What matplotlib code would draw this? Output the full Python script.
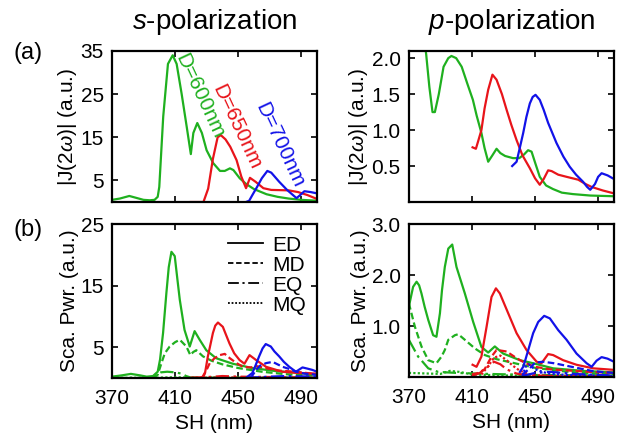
import matplotlib
matplotlib.use("Agg")
import matplotlib.pyplot as plt
from matplotlib.lines import Line2D

plt.rcParams['font.family'] = ['Liberation Sans', 'DejaVu Sans']
plt.rcParams['mathtext.fontset'] = 'custom'
plt.rcParams['mathtext.rm'] = 'Liberation Sans'
plt.rcParams['mathtext.it'] = 'Liberation Sans:italic'

GREEN = '#1fb01f'
RED = '#e8141a'
BLUE = '#1212e8'

# ---- (a) s-polarization, |J(2w)| ----
sj600_x = [370, 375, 381, 386, 390, 394, 397, 399, 400, 402.5, 405.5, 408.5, 411, 414.2, 417.4, 420,
           421.6, 424.1, 427, 430, 434.2, 438.5, 441.5, 444.8, 447, 451, 455, 460, 468, 475, 482, 490, 500]
sj600_y = [0.5, 0.8, 1.4, 0.9, 0.5, 0.4, 0.5, 1.2, 3.5, 19.8, 32, 34, 32, 25, 17.4, 11.1,
           16, 18.3, 16, 12, 9, 7.2, 7.2, 7.8, 7.4, 5.5, 4.2, 3.0, 1.8, 1.2, 0.8, 0.5, 0.3]
sj650_x = [420, 428, 431, 434, 437, 439, 442, 445, 449, 452, 455, 457.5, 461, 466, 471, 482, 488, 494, 500]
sj650_y = [0, 0, 3.1, 10, 15, 15.5, 14.5, 12.8, 9.7, 5.9, 3.2, 5.6, 4.7, 3.2, 2.8, 2.7, 2.3, 1.6, 0.7]
sj700_x = [455, 457, 459, 462, 465, 468.5, 471, 476, 481, 487, 489, 492, 496, 500]
sj700_y = [0, 0.3, 1.6, 3.5, 5.5, 7.2, 6.8, 4.7, 2.8, 0.9, 1.5, 2.5, 2.3, 2.0]

# ---- (a) p-polarization, |J(2w)| ----
pj600_x = [376, 378, 381, 383, 385, 386.5, 389, 392, 395, 397, 400, 403.5, 407, 410.6, 413, 416, 418, 420.3,
           423, 425.6, 428, 431, 436, 440, 443, 445.6, 447.8, 450, 453, 457, 461.4, 467, 474, 485, 500]
pj600_y = [3.2, 2.6, 2.05, 1.6, 1.25, 1.25, 1.5, 1.88, 2.0, 2.03, 2.0, 1.88, 1.65, 1.42, 1.2, 0.96, 0.75, 0.56,
           0.65, 0.74, 0.68, 0.64, 0.61, 0.61, 0.66, 0.72, 0.70, 0.55, 0.35, 0.23, 0.18, 0.13, 0.11, 0.09, 0.08]
pj650_x = [410.4, 412.5, 414, 416, 418, 420.3, 423, 425.6, 429, 432, 435, 438.3, 442, 446.7, 450, 453,
           455.5, 458.3, 460.5, 464.7, 470, 477.4, 482, 485.8, 493, 500]
pj650_y = [0.76, 0.74, 0.85, 1.0, 1.3, 1.56, 1.77, 1.70, 1.5, 1.28, 1.07, 0.86, 0.65, 0.47, 0.33, 0.24,
           0.32, 0.44, 0.43, 0.38, 0.35, 0.31, 0.25, 0.21, 0.16, 0.12]
pj700_x = [435.5, 438.3, 440, 442.5, 444.5, 446.7, 448.5, 450.3, 453, 455.5, 458.3, 463.6, 468, 472, 476,
           480.5, 483, 485, 488, 490, 492.2, 496, 500]
pj700_y = [0.5, 0.56, 0.72, 0.96, 1.18, 1.37, 1.46, 1.49, 1.42, 1.28, 1.1, 0.82, 0.63, 0.49, 0.38,
           0.28, 0.21, 0.17, 0.25, 0.35, 0.4, 0.37, 0.32]

# ---- (b) s-polarization, scattered power ----
ss600_ed_x = [370, 376, 382, 388, 392, 396, 399, 400.5, 402.4, 404.5, 406, 407.7, 409.8, 411.5, 413, 416,
              419.3, 422.4, 425.6, 429.8, 436, 446.6, 459, 474, 489, 500]
ss600_ed_y = [0.2, 0.4, 0.65, 0.4, 0.2, 0.3, 1.0, 3.0, 7.3, 13.8, 18, 20.5, 19.8, 16, 12.7, 7.8,
              5.1, 7.6, 6.2, 4.5, 3.2, 2.3, 1.6, 1.1, 0.8, 0.5]
ss600_md_x = [396, 399, 401.5, 403.5, 406.6, 410, 413, 417.2, 419.7, 421.5, 423.5, 427.7, 433, 440, 450,
              465, 480, 500]
ss600_md_y = [0, 0.5, 2.5, 4.0, 5.1, 5.8, 6.2, 5.1, 3.7, 4.2, 4.5, 3.5, 2.8, 2.2, 1.6, 1.0, 0.6, 0.3]
ss600_eq_x = [370, 395, 398, 401, 405, 410, 414, 417, 420, 500]
ss600_eq_y = [0, 0, 0.4, 0.9, 1.0, 0.9, 0.7, 0.3, 0.05, 0]
ss600_mq_x = [370, 400, 410, 420, 500]
ss600_mq_y = [0, 0.05, 0.1, 0.05, 0]

ss650_ed_x = [420, 427.7, 429, 430.8, 432.5, 434, 435.5, 437.2, 440.3, 442, 444.5, 447.5, 450.9, 454,
              457.2, 461.4, 467.7, 478, 488, 500]
ss650_ed_y = [0, 0, 0.8, 3.5, 5.5, 7.3, 8.5, 9.0, 8.3, 7.2, 5.6, 4.0, 2.9, 2.3, 3.7, 2.9, 1.8, 1.0, 0.8, 0.7]
ss650_md_x = [427, 430, 432, 435, 438.3, 441.5, 444.7, 449, 453, 458, 462, 467, 475, 486.7, 500]
ss650_md_y = [0, 1.3, 2.4, 3.2, 3.7, 3.9, 3.2, 2.4, 1.8, 1.7, 1.9, 1.6, 1.2, 1.0, 0.6]
ss650_eq_x = [420, 435, 440, 450, 500]
ss650_eq_y = [0, 0.2, 0.3, 0.2, 0.05]
ss650_mq_x = [420, 440, 500]
ss650_mq_y = [0, 0.05, 0.02]

ss700_ed_x = [455, 459, 461, 463.3, 465.5, 467.5, 470.7, 473, 476, 479, 482.4, 486.6, 490.8, 494, 497, 500]
ss700_ed_y = [0, 0.8, 2.0, 3.5, 4.8, 5.5, 5.1, 4.3, 3.5, 2.6, 1.8, 1.0, 1.7, 1.5, 1.3, 1.0]
ss700_md_x = [458, 461.4, 464, 467.7, 471.9, 475, 478.2, 483, 486.7, 492, 500]
ss700_md_y = [0, 1.3, 2.0, 2.4, 2.6, 2.2, 1.8, 1.4, 1.0, 0.7, 0.5]
ss700_eq_x = [455, 470, 480, 500]
ss700_eq_y = [0, 0.2, 0.3, 0.2]
ss700_mq_x = [455, 500]
ss700_mq_y = [0, 0.05]

# ---- (b) p-polarization, scattered power ----
ps600_ed_x = [370, 372.7, 374.9, 376.5, 378, 380, 382.3, 385.4, 387.5, 389.7, 391, 392.8, 395, 397.5, 400.2,
              405.5, 410.8, 416, 420.3, 424.5, 429.8, 440.4, 448.8, 461.5, 480.5, 500]
ps600_ed_y = [1.38, 1.77, 1.87, 1.8, 1.64, 1.38, 1.12, 0.82, 0.79, 1.25, 1.7, 2.16, 2.52, 2.6, 2.16,
              1.64, 1.08, 0.59, 0.48, 0.6, 0.46, 0.33, 0.27, 0.17, 0.12, 0.09]
ps600_md_x = [370, 373.8, 378, 382.3, 387.5, 390.7, 392.8, 395, 399.2, 401.3, 405.5, 411.9, 418.2, 425.6,
              440, 450, 465, 480, 500]
ps600_md_y = [1.45, 0.99, 0.6, 0.33, 0.27, 0.4, 0.53, 0.73, 0.82, 0.84, 0.73, 0.56, 0.43, 0.35,
              0.25, 0.18, 0.12, 0.08, 0.06]
ps600_eq_x = [370, 375.9, 382.3, 388.6, 400, 420, 450, 500]
ps600_eq_y = [0.73, 0.4, 0.17, 0.1, 0.08, 0.06, 0.04, 0.03]
ps600_mq_x = [370, 380, 390, 396, 402, 410, 430, 500]
ps600_mq_y = [0.08, 0.07, 0.06, 0.12, 0.1, 0.05, 0.03, 0.02]

ps650_ed_x = [410.4, 412.9, 416, 419.3, 422.4, 425.2, 427.7, 433, 438.3, 444.6, 451, 454.1, 458.3, 461.5,
              467.8, 476.3, 486.9, 500]
ps650_ed_y = [0.24, 0.2, 0.4, 0.99, 1.57, 1.74, 1.64, 1.25, 0.86, 0.53, 0.3, 0.27, 0.45, 0.43,
              0.33, 0.24, 0.17, 0.14]
ps650_md_x = [410, 414, 418, 422.4, 425.6, 428, 432, 438.3, 444, 450, 460, 470, 485, 500]
ps650_md_y = [0.05, 0.08, 0.15, 0.4, 0.53, 0.52, 0.5, 0.37, 0.27, 0.2, 0.15, 0.13, 0.1, 0.08]
ps650_eq_x = [410, 415, 420, 424, 428, 432, 438, 445, 460, 500]
ps650_eq_y = [0.02, 0.08, 0.2, 0.3, 0.25, 0.15, 0.07, 0.03, 0.02, 0.01]
ps650_mq_x = [416, 420, 424, 428, 432, 436, 440, 444, 448, 460, 500]
ps650_mq_y = [0.05, 0.2, 0.38, 0.42, 0.33, 0.22, 0.13, 0.08, 0.04, 0.02, 0.01]

ps700_ed_x = [440.4, 442.5, 444, 445.7, 448.8, 452, 455.8, 459.4, 464.7, 470, 476.3, 482.7, 485.9, 489,
              492.2, 496, 500]
ps700_ed_y = [0.1, 0.2, 0.35, 0.53, 0.86, 1.08, 1.2, 1.15, 0.92, 0.73, 0.46, 0.27, 0.2, 0.32,
              0.39, 0.36, 0.3]
ps700_md_x = [442, 446, 450, 455, 462, 470, 478, 486, 492, 500]
ps700_md_y = [0.05, 0.15, 0.28, 0.3, 0.27, 0.22, 0.17, 0.12, 0.1, 0.08]
ps700_eq_x = [442, 450, 460, 475, 490, 500]
ps700_eq_y = [0.02, 0.08, 0.1, 0.06, 0.04, 0.03]
ps700_mq_x = [442, 444, 446, 450, 458, 470, 485, 500]
ps700_mq_y = [0.02, 0.2, 0.25, 0.15, 0.07, 0.04, 0.03, 0.02]

x_ticks = [370, 410, 450, 490]
multipoles = ['ED', 'MD', 'EQ', 'MQ']
styles = {'ED': '-', 'MD': (0, (3, 1.5)), 'EQ': (0, (6, 2, 1.2, 2)), 'MQ': (0, (1, 1))}

FS = 15
LW = 1.6

fig = plt.figure(figsize=(6.29, 4.43), dpi=100)
ax_sj = fig.add_axes([0.178, 0.544, 0.326, 0.341])
ax_pj = fig.add_axes([0.650, 0.544, 0.326, 0.341])
ax_ss = fig.add_axes([0.178, 0.147, 0.326, 0.347])
ax_ps = fig.add_axes([0.650, 0.149, 0.326, 0.345])

# top row
for x, y, c in [(sj600_x, sj600_y, GREEN), (sj650_x, sj650_y, RED), (sj700_x, sj700_y, BLUE)]:
    ax_sj.plot(x, y, color=c, lw=LW)
for x, y, c in [(pj600_x, pj600_y, GREEN), (pj650_x, pj650_y, RED), (pj700_x, pj700_y, BLUE)]:
    ax_pj.plot(x, y, color=c, lw=LW)

# bottom row
s_series = [
    (ss600_ed_x, ss600_ed_y, ss600_md_x, ss600_md_y, ss600_eq_x, ss600_eq_y, ss600_mq_x, ss600_mq_y, GREEN),
    (ss650_ed_x, ss650_ed_y, ss650_md_x, ss650_md_y, ss650_eq_x, ss650_eq_y, ss650_mq_x, ss650_mq_y, RED),
    (ss700_ed_x, ss700_ed_y, ss700_md_x, ss700_md_y, ss700_eq_x, ss700_eq_y, ss700_mq_x, ss700_mq_y, BLUE),
]
p_series = [
    (ps600_ed_x, ps600_ed_y, ps600_md_x, ps600_md_y, ps600_eq_x, ps600_eq_y, ps600_mq_x, ps600_mq_y, GREEN),
    (ps650_ed_x, ps650_ed_y, ps650_md_x, ps650_md_y, ps650_eq_x, ps650_eq_y, ps650_mq_x, ps650_mq_y, RED),
    (ps700_ed_x, ps700_ed_y, ps700_md_x, ps700_md_y, ps700_eq_x, ps700_eq_y, ps700_mq_x, ps700_mq_y, BLUE),
]
for ax, series in [(ax_ss, s_series), (ax_ps, p_series)]:
    for s in series:
        c = s[8]
        for k, mp in enumerate(multipoles):
            ax.plot(s[2 * k], s[2 * k + 1], color=c, lw=LW, linestyle=styles[mp])

# axes styling
for ax in [ax_sj, ax_pj, ax_ss, ax_ps]:
    ax.set_xlim(370, 500)
    ax.set_xticks(x_ticks)
    ax.tick_params(direction='in', top=True, right=True, length=4, width=1.2, labelsize=FS)
    ax.tick_params(axis='x', pad=8)
    ax.tick_params(axis='y', pad=6)
    for sp in ax.spines.values():
        sp.set_linewidth(1.6)

ax_sj.set_ylim(0, 35)
ax_sj.set_yticks([5, 15, 25, 35])
ax_pj.set_ylim(0, 2.1)
ax_pj.set_yticks([0.5, 1.0, 1.5, 2.0])
ax_pj.set_yticklabels(['0.5', '1.0', '1.5', '2.0'])
ax_ss.set_ylim(0, 25)
ax_ss.set_yticks([5, 15, 25])
ax_ps.set_ylim(0, 3.0)
ax_ps.set_yticks([1.0, 2.0, 3.0])
ax_ps.set_yticklabels(['1.0', '2.0', '3.0'])

for ax in [ax_sj, ax_pj]:
    ax.tick_params(labelbottom=False)
    ax.set_ylabel(r'|J(2$\omega$)| (a.u.)', fontsize=FS, labelpad=1)
for ax in [ax_ss, ax_ps]:
    ax.set_xlabel('SH (nm)', fontsize=FS, labelpad=4)
    ax.set_ylabel('Sca. Pwr. (a.u.)', fontsize=FS, labelpad=1)

ax_sj.set_title(r'$s$-polarization', fontsize=20, pad=16)
ax_pj.set_title(r'$p$-polarization', fontsize=20, pad=16)

# curve labels
ax_sj.text(425.8, 24.6, 'D=600nm', color=GREEN, rotation=-65, fontsize=FS,
           ha='center', va='center', rotation_mode='anchor')
ax_sj.text(449.3, 17.4, 'D=650nm', color=RED, rotation=-65, fontsize=FS,
           ha='center', va='center', rotation_mode='anchor')
ax_sj.text(476.5, 13.2, 'D=700nm', color=BLUE, rotation=-65, fontsize=FS,
           ha='center', va='center', rotation_mode='anchor')

# panel labels
fig.text(0.045, 0.88, '(a)', fontsize=17, ha='center', va='center')
fig.text(0.045, 0.48, '(b)', fontsize=17, ha='center', va='center')

# legend
handles = [Line2D([], [], color='k', lw=1.3, linestyle=styles[m]) for m in multipoles]
ax_ss.legend(handles, multipoles, loc='upper right', frameon=False, fontsize=FS,
             handlelength=1.7, handletextpad=0.4, labelspacing=0.05, borderaxespad=0.15)

fig.savefig('out.png', dpi=100)
